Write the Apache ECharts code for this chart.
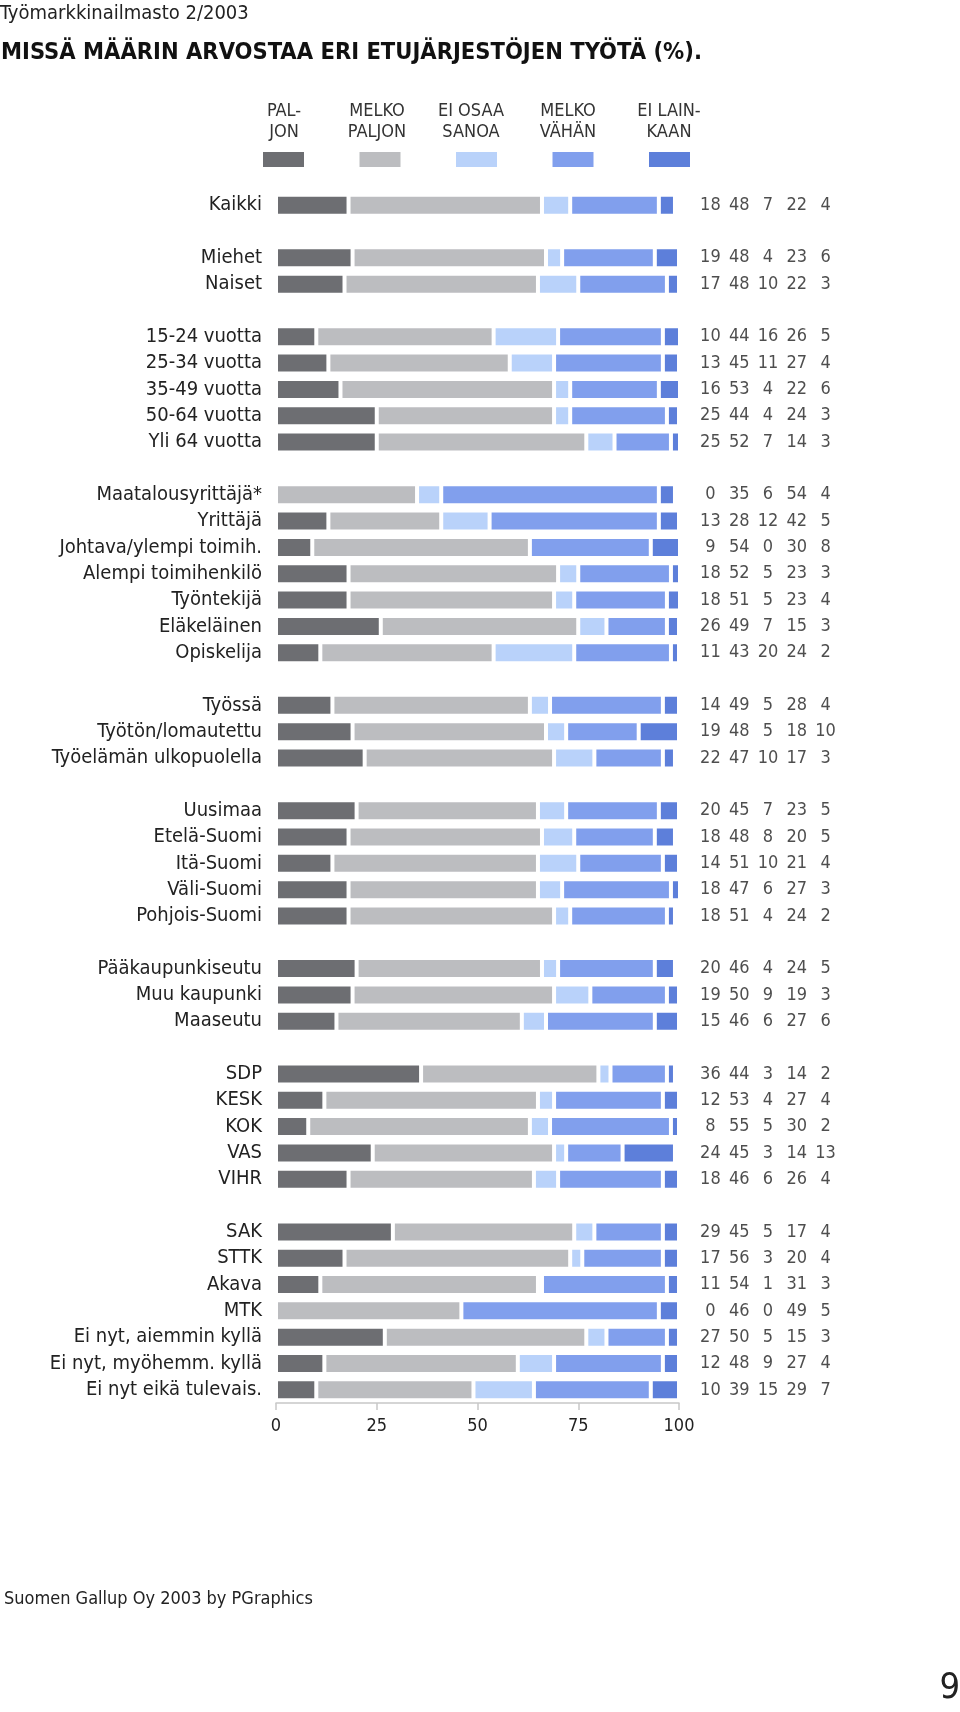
<!DOCTYPE html>
<html><head><meta charset="utf-8">
<script src="https://cdn.jsdelivr.net/npm/echarts@6/dist/echarts.min.js"></script>
<style>html,body{margin:0;padding:0;background:#fff}#c{width:960px;height:1712px}</style>
</head><body><div id="c"></div>
<script>
const categories = [
  'Kaikki',
  'Miehet','Naiset',
  '15-24 vuotta','25-34 vuotta','35-49 vuotta','50-64 vuotta','Yli 64 vuotta',
  'Maatalousyrittäjä*','Yrittäjä','Johtava/ylempi toimih.','Alempi toimihenkilö','Työntekijä','Eläkeläinen','Opiskelija',
  'Työssä','Työtön/lomautettu','Työelämän ulkopuolella',
  'Uusimaa','Etelä-Suomi','Itä-Suomi','Väli-Suomi','Pohjois-Suomi',
  'Pääkaupunkiseutu','Muu kaupunki','Maaseutu',
  'SDP','KESK','KOK','VAS','VIHR',
  'SAK','STTK','Akava','MTK','Ei nyt, aiemmin kyllä','Ei nyt, myöhemm. kyllä','Ei nyt eikä tulevais.'
];
const groupSizes = [1, 2, 5, 7, 3, 5, 3, 5, 7];
const seriesNames = ['Paljon', 'Melko paljon', 'Ei osaa sanoa', 'Melko vähän', 'Ei lainkaan'];
const legendHeaders = ['PAL-\nJON', 'MELKO\nPALJON', 'EI OSAA\nSANOA', 'MELKO\nVÄHÄN', 'EI LAIN-\nKAAN'];
const paljon      = [18, 19,17, 10,13,16,25,25, 0,13, 9,18,18,26,11, 14,19,22, 20,18,14,18,18, 20,19,15, 36,12, 8,24,18, 29,17,11, 0,27,12,10];
const melkoPaljon = [48, 48,48, 44,45,53,44,52, 35,28,54,52,51,49,43, 49,48,47, 45,48,51,47,51, 46,50,46, 44,53,55,45,46, 45,56,54,46,50,48,39];
const eiOsaa      = [ 7,  4,10, 16,11, 4, 4, 7,  6,12, 0, 5, 5, 7,20,  5, 5,10,  7, 8,10, 6, 4,  4, 9, 6,  3, 4, 5, 3, 6,  5, 3, 1, 0, 5, 9,15];
const melkoVahan  = [22, 23,22, 26,27,22,24,14, 54,42,30,23,23,15,24, 28,18,17, 23,20,21,27,24, 24,19,27, 14,27,30,14,26, 17,20,31,49,15,27,29];
const eiLainkaan  = [ 4,  6, 3,  5, 4, 6, 3, 3,  4, 5, 8, 3, 4, 3, 2,  4,10, 3,  5, 5, 4, 3, 2,  5, 3, 6,  2, 4, 2,13, 4,  4, 4, 3, 5, 3, 4, 7];
const xTicks = [0, 25, 50, 75, 100];

const colors = ['#6d6e72', '#bcbdc0', '#b9d2fa', '#819fed', '#5d7fda'];
const allValues = [paljon, melkoPaljon, eiOsaa, melkoVahan, eiLainkaan];
const FONT = "'Liberation Sans Narrow', 'DejaVu Sans Condensed', 'Roboto Condensed', 'Open Sans', sans-serif";

// build axis with blank slots between groups
const axisCats = [];
const rowSlot = [];
let r = 0;
groupSizes.forEach((n, g) => {
  if (g > 0) axisCats.push(' '.repeat(g));
  for (let k = 0; k < n; k++) { rowSlot.push(axisCats.length); axisCats.push(categories[r++]); }
});
function slotData(arr) {
  const d = axisCats.map(() => null);
  arr.forEach((v, i) => { d[rowSlot[i]] = v; });
  return d;
}

const series = [];
allValues.forEach((arr, k) => {
  series.push({
    name: seriesNames[k], type: 'bar', stack: 'all', xAxisIndex: 0, yAxisIndex: 0,
    barWidth: 21, data: slotData(arr),
    itemStyle: { color: colors[k], borderColor: '#fff', borderWidth: 2 },
    emphasis: { disabled: true }
  });
});
allValues.forEach((arr, k) => {
  series.push({
    type: 'scatter', xAxisIndex: 1, yAxisIndex: 1, symbolSize: 1,
    itemStyle: { color: 'rgba(0,0,0,0)' },
    data: arr.map((v, i) => [k + 0.5, rowSlot[i], v]),
    label: { show: true, position: 'inside', color: '#222', fontSize: 18, fontFamily: FONT,
      formatter: p => String(p.value[2]) },
    silent: true
  });
});

const headerX = [284, 377, 471, 568, 669];
const graphics = legendHeaders.map((t, i) => ({
  type: 'text', x: headerX[i], y: 101,
  style: { text: t, fill: '#333', font: "18px " + FONT, textAlign: 'center', lineHeight: 21 }
}));

const chart = echarts.init(document.getElementById('c'), null, { renderer: 'canvas' });
chart.setOption({
  animation: false,
  backgroundColor: '#fff',
  title: [
    { text: 'Työmarkkinailmasto 2/2003', left: 0, top: 4, padding: 0, textStyle: { fontFamily: FONT, fontSize: 20, fontWeight: 'normal', color: '#222' } },
    { text: 'MISSÄ MÄÄRIN ARVOSTAA ERI ETUJÄRJESTÖJEN TYÖTÄ (%).', left: 1, top: 41, padding: 0, textStyle: { fontFamily: FONT, fontSize: 23.5, fontWeight: 'bold', color: '#111' } },
    { text: 'Suomen Gallup Oy 2003 by PGraphics', left: 4, top: 1590, padding: 0, textStyle: { fontFamily: FONT, fontSize: 18, fontWeight: 'normal', color: '#222' } },
    { text: '9', right: 0, top: 1671, padding: 0, textStyle: { fontFamily: FONT, fontSize: 36, fontWeight: 'normal', color: '#222' } }
  ],
  legend: {
    data: seriesNames, left: 258, top: 147, itemWidth: 41, itemHeight: 15, itemGap: 55.5,
    formatter: () => '', selectedMode: false, icon: 'rect',
    itemStyle: { borderWidth: 0 }
  },
  graphic: graphics,
  grid: [
    { left: 276, right: 281, top: 192, height: 1211 },
    { left: 696, width: 144, top: 192, height: 1211 }
  ],
  xAxis: [
    { gridIndex: 0, type: 'value', min: 0, max: 100, interval: 25,
      axisLine: { show: true, lineStyle: { color: '#c8c8c8', width: 1.5 } },
      axisTick: { show: true, length: 7, lineStyle: { color: '#c8c8c8', width: 1.5 } },
      splitLine: { show: false },
      axisLabel: { color: '#222', fontSize: 18, fontFamily: FONT, margin: 14,
        formatter: v => xTicks.includes(v) ? String(v) : '' } },
    { gridIndex: 1, type: 'value', min: 0, max: 5, show: false }
  ],
  yAxis: [
    { gridIndex: 0, type: 'category', inverse: true, data: axisCats,
      axisLine: { show: false }, axisTick: { show: false },
      axisLabel: { color: '#222', fontSize: 20, fontFamily: FONT, margin: 14, interval: 0 } },
    { gridIndex: 1, type: 'category', inverse: true, data: axisCats, show: false }
  ],
  series: series
});
</script></body></html>
